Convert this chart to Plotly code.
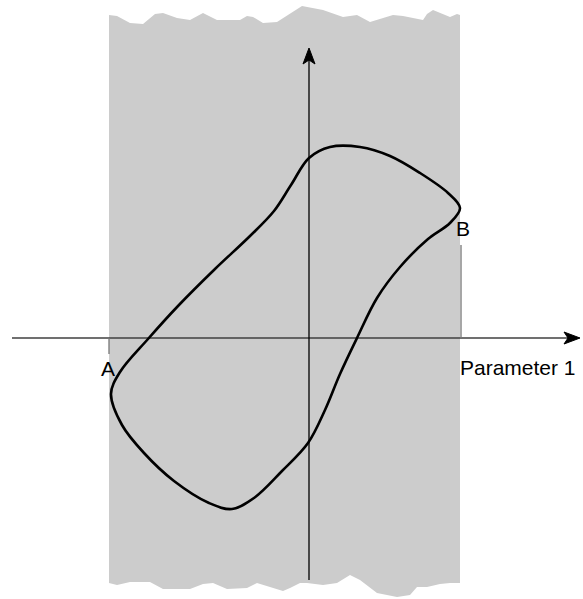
import plotly.graph_objects as go

# origin of the sketch axes, in page pixels
X0, Y0 = 309, 338
W, H = 583, 599

# hysteresis loop (Parameter 1, Parameter 2), pixel-scaled units
loop_p1 = [0, 21, 51, 81, 111, 139, 151, 141, 119, 91, 68, 48, 31, 16, -1,
           -27, -55, -77, -100, -135, -165, -187, -198, -189, -161, -131,
           -94, -59, -35, -18, 0]
loop_p2 = [180, 191, 191, 182, 165, 145, 130, 115, 99, 71, 40, 0, -36, -72,
           -105, -133, -160, -171, -165, -143, -115, -87, -56, -34, -1, 32,
           69, 102, 127, 153, 180]

# torn-paper band edges
band_left, band_right = -200, 151
top_x = [109, 117, 130, 143, 155, 163, 177, 190, 203, 217, 240, 247, 253,
         263, 277, 302, 323, 343, 357, 370, 393, 403, 423, 427, 433, 450,
         457, 460]
top_y = [15, 16, 23, 24, 14, 13, 18, 20, 13, 20, 20, 16, 17, 23, 22, 6, 10,
         17, 15, 22, 15, 16, 20, 14, 10, 17, 14, 15]
bot_x = [109, 117, 130, 150, 163, 190, 203, 213, 227, 247, 257, 270, 283,
         290, 300, 307, 323, 337, 350, 360, 377, 397, 410, 417, 427, 440,
         450, 460]
bot_y = [583, 585, 582, 582, 589, 589, 584, 583, 589, 588, 583, 587, 591,
         588, 583, 583, 585, 583, 575, 580, 593, 597, 595, 587, 587, 584,
         583, 583]

labels = ["A", "B", "Parameter 1"]

fig = go.Figure()

# gray band
bx = [x - X0 for x in top_x] + [x - X0 for x in bot_x[::-1]]
by = [Y0 - y for y in top_y] + [Y0 - y for y in bot_y[::-1]]
fig.add_trace(go.Scatter(x=bx + [bx[0]], y=by + [by[0]], mode="lines",
                         fill="toself", fillcolor="#cccccc",
                         line=dict(width=0), hoverinfo="skip"))

# axes
fig.add_trace(go.Scatter(x=[12 - X0, 568 - X0], y=[0, 0], mode="lines",
                         line=dict(color="#404040", width=1.3),
                         hoverinfo="skip"))
fig.add_trace(go.Scatter(x=[0, 0], y=[Y0 - 580, Y0 - 60], mode="lines",
                         line=dict(color="black", width=1.3),
                         hoverinfo="skip"))
# arrowheads
fig.add_trace(go.Scatter(x=[580 - X0, 564 - X0, 568 - X0, 564 - X0, 580 - X0],
                         y=[0, 6, 0, -6, 0], mode="lines", fill="toself",
                         fillcolor="black", line=dict(color="black", width=1),
                         hoverinfo="skip"))
fig.add_trace(go.Scatter(x=[0, -6, 0, 6, 0],
                         y=[Y0 - 48, Y0 - 64, Y0 - 60, Y0 - 64, Y0 - 48],
                         mode="lines", fill="toself", fillcolor="black",
                         line=dict(color="black", width=1), hoverinfo="skip"))

# markers for A and B
fig.add_trace(go.Scatter(x=[band_left, band_left], y=[0, -16], mode="lines",
                         line=dict(color="#777777", width=1.3),
                         hoverinfo="skip"))
fig.add_trace(go.Scatter(x=[band_right + 1, band_right + 1], y=[0, 93],
                         mode="lines", line=dict(color="#777777", width=1.3),
                         hoverinfo="skip"))

# loop
fig.add_trace(go.Scatter(x=loop_p1, y=loop_p2, mode="lines",
                         line=dict(color="black", width=2.6, shape="spline",
                                   smoothing=1.0),
                         hoverinfo="skip"))

fnt = dict(family="Liberation Sans, Arial, sans-serif", size=21, color="black")
fig.add_annotation(x=band_left - 1, y=-30, text=labels[0], showarrow=False,
                   font=fnt, xanchor="center", yanchor="middle")
fig.add_annotation(x=band_right + 3, y=110, text=labels[1], showarrow=False,
                   font=fnt, xanchor="center", yanchor="middle")
fig.add_annotation(x=149, y=-29, text=labels[2], showarrow=False,
                   font=fnt, xanchor="left", yanchor="middle")

fig.update_layout(
    width=W, height=H, margin=dict(l=0, r=0, t=0, b=0),
    paper_bgcolor="white", plot_bgcolor="white", showlegend=False,
    xaxis=dict(range=[-X0, W - X0], visible=False, fixedrange=True),
    yaxis=dict(range=[Y0 - H, Y0], visible=False, fixedrange=True),
)
fig.write_html("out.html", config={"displayModeBar": False},
               post_script="document.body.style.margin = '0';")
